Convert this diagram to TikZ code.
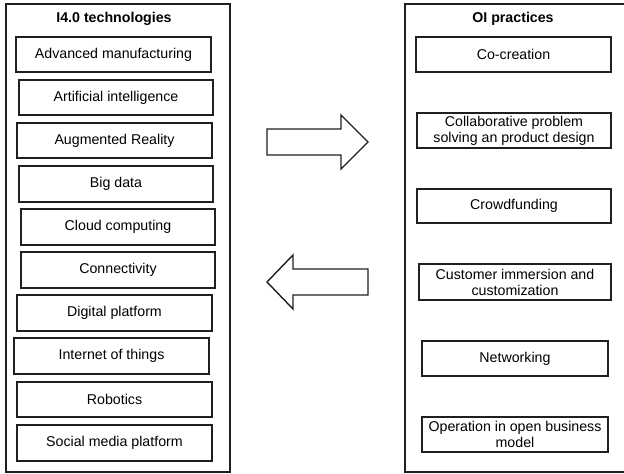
\documentclass[tikz,border=0pt]{standalone}
\usepackage{fontspec}
\setmainfont{Liberation Sans}
\begin{document}
\begin{tikzpicture}[x=1pt,y=-1pt,
  line width=1.4pt, draw=black!88,
  itembox/.style={draw=black!88, line width=1.4pt, inner sep=0pt, align=center,
    font=\fontsize{14.2}{16}\selectfont},
  outerbox/.style={draw=black!88, line width=1.4pt},
  ttl/.style={font=\fontsize{14.2}{16}\selectfont\bfseries},
  bigarrow/.style={draw=black!88, line width=1.4pt, line join=miter, fill=white}]
\useasboundingbox (0,0) rectangle (624,474);
\clip (0,0) rectangle (624,474);
% outer frames
\draw[outerbox] (6,4) rectangle (230,472);
\draw[outerbox] (405,4) rectangle (630,472);
\node[ttl] (t1) at (114,19) {I4.0 technologies};
\node[ttl] (t2) at (513,19) {OI practices};
% left column
\newcommand{\lbox}[6]{\node[itembox, minimum width={#3-#2}, minimum height={#5-#4}] (#1) at ({(#2+#3)/2},{(#4+#5)/2}) {#6};}
\lbox{l1}{16}{211}{37}{72}{Advanced manufacturing}
\lbox{l2}{19}{213}{80}{115}{Artificial intelligence}
\lbox{l3}{17}{212}{123}{158}{Augmented Reality}
\lbox{l4}{19}{213}{166}{202}{Big data}
\lbox{l5}{21}{215}{209}{245}{Cloud computing}
\lbox{l6}{21}{215}{252}{288}{Connectivity}
\lbox{l7}{17}{212}{295}{331}{Digital platform}
\lbox{l8}{14}{209}{338}{374}{Internet of things}
\lbox{l9}{17}{212}{382}{417}{Robotics}
\lbox{l10}{17}{212}{425}{461}{Social media platform}
% right column
\lbox{r1}{416}{611}{37}{72}{Co-creation}
\lbox{r2}{417}{611}{113}{148}{Collaborative problem\\solving an product design}
\lbox{r3}{417}{611}{189}{223}{Crowdfunding}
\lbox{r4}{419}{611}{264}{300}{Customer immersion and\\customization}
\lbox{r5}{422}{608}{341}{376}{Networking}
\lbox{r6}{422}{608}{417}{452}{Operation in open business\\model}
% block arrows
\draw[bigarrow] (267,129) -- (341,129) -- (341,115) -- (368,142) -- (341,169) -- (341,155) -- (267,155) -- cycle;
\draw[bigarrow] (368,269) -- (293,269) -- (293,255) -- (267,282) -- (293,309) -- (293,295) -- (368,295) -- cycle;
\end{tikzpicture}
\end{document}
